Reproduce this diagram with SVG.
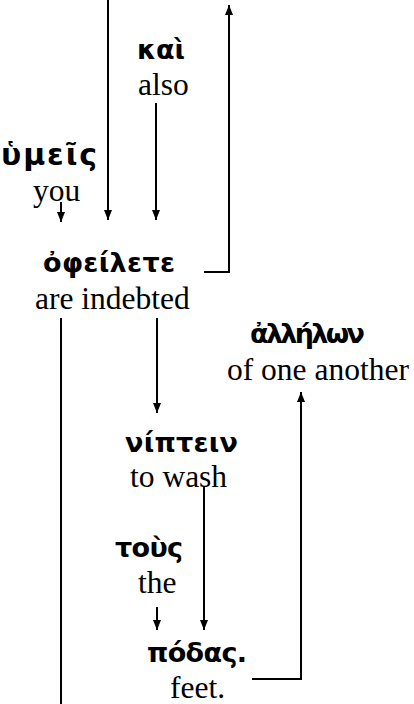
<svg xmlns="http://www.w3.org/2000/svg" width="414" height="704" viewBox="0 0 414 704">
<style>
.g{font-family:"DejaVu Sans","Noto Sans",sans-serif;font-weight:bold;font-size:27px;fill:#000}
.e{font-family:"Liberation Serif","Times New Roman",serif;font-size:31.5px;fill:#000}
.c{fill:none;stroke:#000;stroke-width:2}
</style>
<defs>
<marker id="ah" markerUnits="userSpaceOnUse" markerWidth="10" markerHeight="8" refX="10" refY="4" orient="auto">
<path d="M0,0 L10,4 L0,8 z" fill="#000"/>
</marker>
</defs>
<rect width="414" height="704" fill="#fff"/>
<g id="connectors">
<path class="c" d="M108,0 V220" marker-end="url(#ah)"/>
<path class="c" d="M156,103 V220" marker-end="url(#ah)"/>
<path class="c" d="M61,202 V222" marker-end="url(#ah)"/>
<path class="c" d="M204,272 H229 V5" marker-end="url(#ah)"/>
<path class="c" d="M61,318 V704"/>
<path class="c" d="M157,318 V413" marker-end="url(#ah)"/>
<path class="c" d="M204,487 V630" marker-end="url(#ah)"/>
<path class="c" d="M157,607 V630" marker-end="url(#ah)"/>
<path class="c" d="M252,679 H301 V392" marker-end="url(#ah)"/>
</g>
<g id="kai"><text class="g" x="137" y="59" textLength="48" lengthAdjust="spacing">καὶ</text><text class="e" x="138" y="95">also</text></g>
<g id="humeis"><text class="g" x="1" y="165" style="font-size:30px" textLength="96" lengthAdjust="spacing">ὑμεῖς</text><text class="e" x="33" y="201">you</text></g>
<g id="opheilete"><text class="g" x="43" y="272" textLength="132" lengthAdjust="spacing">ὀφείλετε</text><text class="e" x="35" y="309">are indebted</text></g>
<g id="allelon"><text class="g" x="250" y="343" textLength="115" lengthAdjust="spacing">ἀλλήλων</text><text class="e" x="227" y="380">of one another</text></g>
<g id="niptein"><text class="g" x="125" y="452" textLength="113" lengthAdjust="spacing">νίπτειν</text><text class="e" x="130" y="487">to wash</text></g>
<g id="tous"><text class="g" x="115" y="557" textLength="68" lengthAdjust="spacing">τοὺς</text><text class="e" x="138" y="593">the</text></g>
<g id="podas"><text class="g" x="147" y="662" textLength="100" lengthAdjust="spacing">πόδας.</text><text class="e" x="170" y="698">feet.</text></g>
</svg>
